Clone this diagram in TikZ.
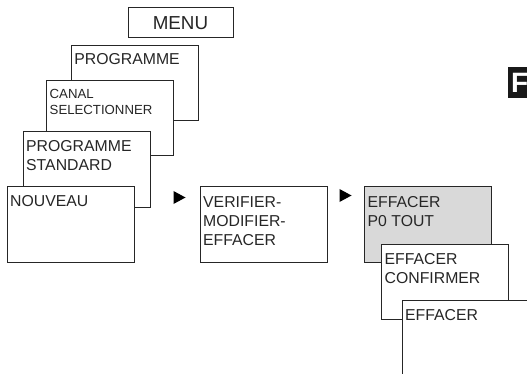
\documentclass[tikz,border=0pt]{standalone}
\usepackage{fontspec}
\setmainfont{Liberation Sans}
\begin{document}
\begin{tikzpicture}[x=1pt,y=-1pt,
 menubox/.style={draw=black!85,line width=0.9pt,fill=white,inner sep=0pt,anchor=north west,minimum width=127pt,minimum height=75pt},
 lbl/.style={anchor=base west,inner sep=0pt,align=left,font=\fontsize{15.8}{19}\selectfont,text=black!85},
 tri/.style={fill=black,draw=none}]
\useasboundingbox (0,0) rectangle (527,374);
\clip (0,0) rectangle (527,374);
\node[menubox,minimum width=105pt,minimum height=30pt] (menu) at (127.5,7.5) {};
\node[font=\fontsize{18.8}{20}\selectfont,text=black!85] (menut) at (menu.center) {MENU};
\node[menubox] (prog) at (71,45.5) {};
\node[lbl] (progt) at (74.2,65) {PROGRAMME};
\node[menubox] (canal) at (46,80.5) {};
\node[lbl,font=\fontsize{13.2}{16}\selectfont] (canalt) at (49.5,115) {CANAL\\SELECTIONNER};
\node[menubox] (std) at (23,131.5) {};
\node[lbl] (stdt) at (26,171) {PROGRAMME\\STANDARD};
\node[menubox] (nouv) at (6.5,186.5) {};
\node[lbl] (nouvt) at (10,207) {NOUVEAU};
\node[menubox] (veri) at (199.5,186.5) {};
\node[lbl] (verit) at (203,245) {VERIFIER-\\MODIFIER-\\EFFACER};
\node[menubox,fill=black!15] (eff) at (364,186.5) {};
\node[lbl] (efft) at (367.5,226) {EFFACER\\P0 TOUT};
\node[menubox] (conf) at (381,243.5) {};
\node[lbl] (conft) at (384.5,283) {EFFACER\\CONFIRMER};
\node[menubox] (last) at (402,299.5) {};
\node[lbl] (lastt) at (405,320) {EFFACER};
\coordinate (a1) at (173.5,191);
\coordinate (a2) at (339.5,189);
\fill[tri] (a1) -- ++(0,13) -- ++(12,-6.5) -- cycle;
\fill[tri] (a2) -- ++(0,13) -- ++(12,-6.5) -- cycle;
\fill[black!90] (508,67) rectangle (527,98);
\node[anchor=base west,inner sep=0pt,font=\bfseries\fontsize{28}{28}\selectfont,text=white] (fl) at (511,93) {F};
\end{tikzpicture}
\end{document}
